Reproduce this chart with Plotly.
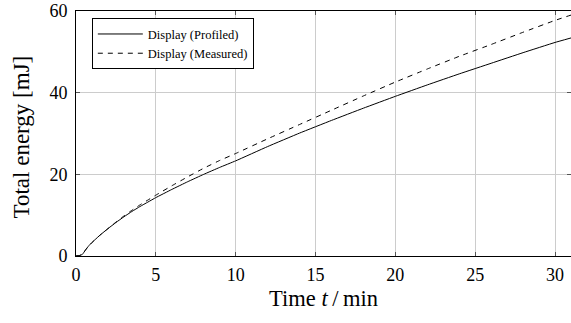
import plotly.graph_objects as go

time_min = [0, 0.2, 0.4, 0.6, 0.8, 1, 1.5, 2, 2.5, 3, 3.5, 4, 4.5, 5, 6, 7, 8, 9, 10,
            12, 14, 16, 18, 20, 22, 24, 26, 28, 30, 31]
energy_profiled = [0, 0.1, 0.4, 1.5, 2.5, 3.3, 5.1, 6.7, 8.2, 9.6, 10.9, 12.1, 13.2, 14.3, 16.3, 18.2, 20.0, 21.7, 23.3,
                   26.8, 30.1, 33.2, 36.2, 39.1, 41.9, 44.6, 47.2, 49.8, 52.3, 53.4]
energy_measured = [0, 0.1, 0.4, 1.5, 2.5, 3.3, 5.1, 6.7, 8.3, 9.8, 11.2, 12.5, 13.7, 14.9, 17.2, 19.4, 21.5, 23.4, 25.1,
                   28.7, 32.2, 35.7, 39.2, 42.6, 45.8, 48.9, 51.8, 54.8, 57.7, 59.0]
x_ticks = [0, 5, 10, 15, 20, 25, 30]
y_ticks = [0, 20, 40, 60]

FONT = "Liberation Serif"

fig = go.Figure()
fig.add_trace(go.Scatter(x=time_min, y=energy_profiled, mode="lines",
                         name="Display (Profiled)", legendgroup="a",
                         line=dict(color="black", width=1, shape="spline", smoothing=0.3)))
fig.add_trace(go.Scatter(x=time_min, y=energy_measured, mode="lines",
                         name="Display (Measured)", legendgroup="b",
                         line=dict(color="black", width=1, dash="5px,5px", shape="spline", smoothing=0.3)))

axis_common = dict(showline=True, linecolor="black", linewidth=1, mirror="ticks",
                   ticks="inside", ticklen=4, tickcolor="#555", showgrid=True,
                   gridcolor="#cccccc", gridwidth=1, zeroline=False, automargin=False,
                   tickfont=dict(family=FONT, size=18, color="black"))

fig.update_layout(
    width=571, height=323,
    margin=dict(l=76, r=0, t=11, b=67),
    paper_bgcolor="white", plot_bgcolor="white",
    font=dict(family=FONT, color="black"),
    showlegend=True,
    legend=dict(x=0.032, y=0.97, xanchor="left", yanchor="top",
                bgcolor="white", bordercolor="black", borderwidth=1,
                font=dict(family=FONT, size=12.5, color="black"),
                tracegroupgap=4, itemwidth=45, traceorder="normal"),
    xaxis=dict(range=[0, 31], tickvals=x_ticks, ticklabelstandoff=2,
               title=dict(text="Time <i>t</i>\u2009/\u2009min", font=dict(family=FONT, size=22.5), standoff=6),
               **axis_common),
    yaxis=dict(range=[0, 60], tickvals=y_ticks, ticklabelstandoff=4,
               **axis_common),
    annotations=[dict(text="Total energy [mJ]", textangle=-90, xref="paper", yref="paper",
                      x=-0.111, y=0.484, xanchor="center", yanchor="middle", showarrow=False,
                      font=dict(family=FONT, size=23, color="black"))],
)

fig.write_html("out.html", config={"displayModeBar": False},
               post_script="document.body.style.margin='0';")
